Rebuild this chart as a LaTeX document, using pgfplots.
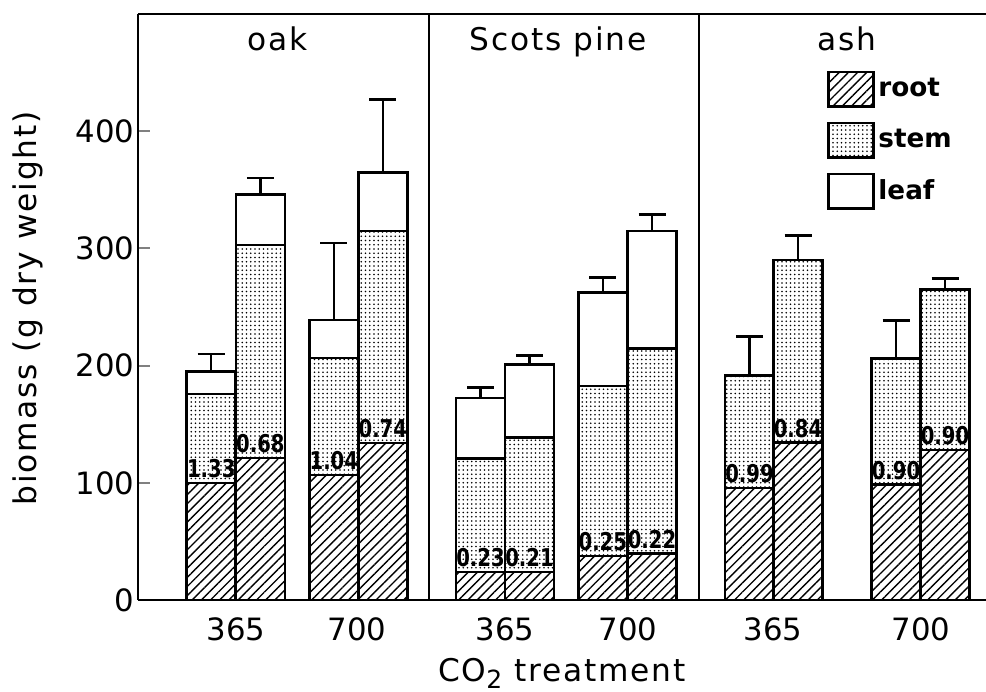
\documentclass[border=0pt]{standalone}
\usepackage{fontspec}
\setmainfont{DejaVu Sans}
\newfontfamily\labfont[LetterSpace=6]{DejaVu Sans}
\newfontfamily\valfont[FakeStretch=0.8]{DejaVu Sans}
\usepackage{pgfplots}
\usepackage{pgfplotstable}
\pgfplotsset{compat=1.18}
\usetikzlibrary{patterns.meta}

% bar tops: x = bar centre (pixel scale), heights in g
\pgfplotstableread{
x     rootTop stemTop leafTop err  lab
211.2 100.0   176.0   195.0   15.0 1.33
260.4 121.4   303.0   346.0   14.0 0.68
333.8 106.6   206.7   239.0   65.6 1.04
382.8 134.0   315.0   365.0   62.0 0.74
480.5  24.0   121.0   172.6    8.9 0.23
529.5  24.0   138.5   201.0    7.8 0.21
602.8  37.5   182.8   262.5   12.8 0.25
652.0  39.8   214.8   314.8   14.0 0.22
749.5  95.6   191.4   191.4   33.3 0.99
798.0 134.5   290.0   290.0   21.0 0.84
896.0  98.7   206.2   206.2   32.4 0.90
945.0 128.0   265.0   265.0    9.5 0.90
}\biomass

\tikzset{
  rootfill/.style={preaction={fill=white}, pattern={Lines[angle=45,distance=2.6pt,line width=0.55pt]}},
  stemfill/.style={preaction={fill=white}, pattern={Dots[distance=1.7pt,radius=0.32pt]}},
}

\begin{document}
\begin{tikzpicture}
\begin{axis}[
    scale only axis,
    width=339.2pt, height=234.4pt,
    xmin=138, xmax=986,
    ymin=0, ymax=500,
    clip=false,
    axis x line*=box,
    axis y line*=left,
    axis line style={line width=0.8pt},
    ytick={0,100,200,300,400},
    tick align=inside,
    major tick length=4.8pt,
    ytick style={line width=0.8pt},
    yticklabel style={inner sep=1.2pt},
    xtick={236,357,505,628,773,921},
    xticklabels={365,700,365,700,365,700},
    xtick style={draw=none},
    xticklabel style={anchor=base, yshift=-16pt},
    extra x ticks={429,699},
    extra x tick labels={},
    extra x tick style={grid=major, major tick length=0pt},
    major grid style={black, line width=0.8pt},
    tick label style={font=\fontsize{12.3}{14}\selectfont},
    /pgf/number format/assume math mode=true,
    legend image code/.code={\draw[#1, line width=1pt] (0pt,-6.9pt) rectangle (18pt,6.9pt);},
    legend style={at={(axis cs:826.7,452)}, anchor=north west, draw=none, fill=none,
        inner sep=0pt, row sep=5.6pt, font=\bfseries\fontsize{10.5}{12}\selectfont,
        nodes={inner sep=1.5pt}},
    legend cell align=left,
]
\addlegendimage{rootfill}
\addlegendentry{root}
\addlegendimage{stemfill}
\addlegendentry{stem}
\addlegendimage{fill=white}
\addlegendentry{leaf}

% leaf (whole bar), then stem, then root drawn over it from the baseline
\addplot[ybar, bar width=49, bar shift=0pt, draw=black, line width=1pt, fill=white, forget plot,
    error bars/.cd, y dir=plus, y explicit,
    error bar style={line width=1pt},
    error mark options={rotate=90, line width=1pt, mark size=5.4pt}]
    table[x=x, y=leafTop, y error=err] {\biomass};
\addplot[ybar, bar width=49, bar shift=0pt, draw=black, line width=1pt, stemfill, forget plot]
    table[x=x, y=stemTop] {\biomass};
\addplot[ybar, bar width=49, bar shift=0pt, draw=black, line width=1pt, rootfill, forget plot]
    table[x=x, y=rootTop] {\biomass};

% root:shoot labels on top of the root segment
\addplot[draw=none, mark=none, forget plot, nodes near coords, point meta=explicit symbolic,
    nodes near coords style={anchor=south, inner sep=0pt, yshift=1.8pt,
        font=\valfont\bfseries\fontsize{9.8}{11}\selectfont}]
    table[x=x, y=rootTop, meta=lab] {\biomass};

\node[anchor=base, font=\labfont\fontsize{12.5}{14}\selectfont] at (axis cs:278,469) {oak};
\node[anchor=base, font=\labfont\fontsize{12.5}{14}\selectfont] at (axis cs:558,469) {Scots pine};
\node[anchor=base, font=\labfont\fontsize{12.5}{14}\selectfont] at (axis cs:847,469) {ash};

\node[rotate=90, font=\labfont\fontsize{12.5}{14}\selectfont] at (axis cs:28,249) {biomass (g dry weight)};
\node[anchor=base, font=\labfont\fontsize{12.5}{14}\selectfont] at (axis cs:562,-69.5)
    {CO\raisebox{-0.4ex}{\fontsize{10}{10}\selectfont 2} treatment};

\coordinate (bl) at (axis cs:0,-77.6);
\coordinate (tr) at (axis cs:986,512);
\end{axis}
\pgfresetboundingbox
\path (bl) rectangle (tr);
\end{tikzpicture}
\end{document}
